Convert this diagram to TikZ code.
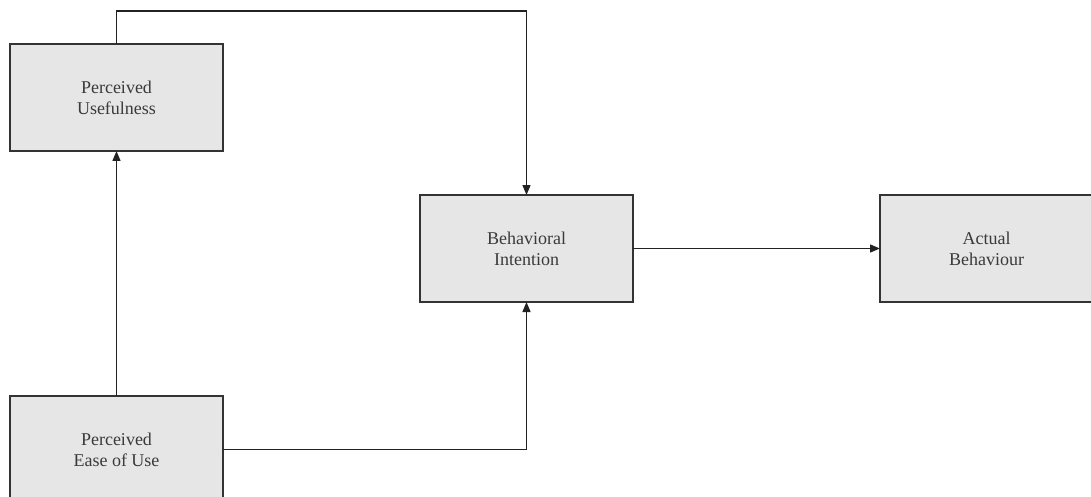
\documentclass[tikz,border=0pt]{standalone}
\usepackage{fontspec}
\setmainfont{Liberation Serif}
\usetikzlibrary{arrows.meta}
\definecolor{boxfill}{HTML}{E6E6E6}
\definecolor{boxline}{HTML}{333333}
\definecolor{txt}{HTML}{3A3A3A}
\definecolor{wire}{HTML}{222222}
\begin{document}
\begin{tikzpicture}[x=1pt,y=-1pt,
  box/.style={draw=boxline, fill=boxfill, line width=1.6pt,
    minimum width=213pt, minimum height=107pt, inner sep=0pt, outer sep=0pt,
    align=center, text=txt,
    font=\fontsize{18pt}{21pt}\selectfont},
  link/.style={draw=wire, line width=1.4pt,
    -{Triangle[width=8pt,length=10pt]}}]
  \useasboundingbox (0,0) rectangle (1091,497);
  \clip (0,0) rectangle (1091,497);
  \fill[white] (0,0) rectangle (1091,497);

  % constructs of the model
  \node[box] (pu)   at (116.5,97.5)  {Perceived\\Usefulness};
  \node[box] (peou) at (116.5,449.5) {Perceived\\Ease of Use};
  \node[box] (bi)   at (526.5,248.5) {Behavioral\\Intention};
  \node[box] (ab)   at (986.5,248.5) {Actual\\Behaviour};

  % routing point above the diagram
  \coordinate (top) at (526.5,11);

  % relations
  \draw[link] (pu.north) |- (top) -- (bi.north);
  \draw[link] (peou.north) -- (pu.south);
  \draw[link] (peou.east) -| (bi.south);
  \draw[link] (bi.east) -- (ab.west);
\end{tikzpicture}
\end{document}
